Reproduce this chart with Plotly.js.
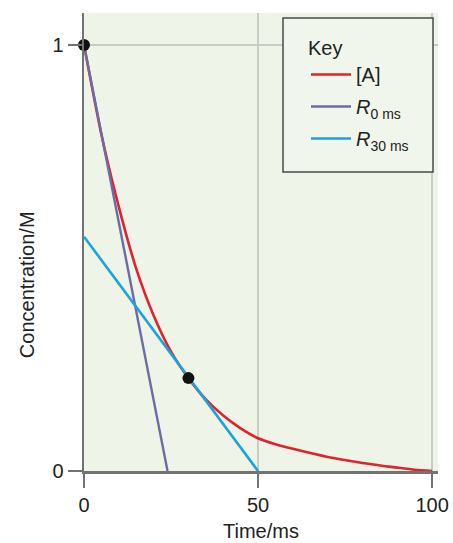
<!DOCTYPE html>
<html>
<head>
<meta charset="utf-8">
<script src="https://cdn.plot.ly/plotly-3.0.1.min.js"></script>
<style>html,body{margin:0;padding:0;background:#fff;}#chart{width:453px;height:543px;}</style>
</head>
<body>
<div id="chart"></div>
<script>
// [A] concentration curve
const timeMs = [0, 5, 10, 15, 20, 25, 30, 35, 40, 45, 50, 55, 60, 70, 80, 90, 95, 100];
const concA  = [1.0, 0.79, 0.62, 0.475, 0.365, 0.28, 0.218, 0.168, 0.13, 0.1, 0.077, 0.063, 0.052, 0.033, 0.019, 0.008, 0.003, 0.0];
// tangent at t = 0 ms
const r0Time = [0, 24];
const r0Conc = [1.0, 0.0];
// tangent at t = 30 ms
const r30Time = [0, 50];
const r30Conc = [0.55, 0.0];
// marked points on the curve
const dotTimes = [0, 30];
const dotConc = dotTimes.map(t => concA[timeMs.indexOf(t)]);
// tick labels
const xTicks = [0, 50, 100];
const yTicks = [0, 1];
const seriesNames = ['[A]', '<i>R</i><sub>0 ms</sub>', '<i>R</i><sub>30 ms</sub>'];

const font = 'Liberation Sans, Arial, Helvetica, sans-serif';
const axisCol = '#737373';
const txt = '#222';

// plot area in pixels (used to place layout items)
const W = 453, H = 543;
const mL = 84, mR = 15, mT = 13, mB = 72.3;
const pw = W - mL - mR, ph = H - mT - mB;
const px2x = p => (p - mL) / pw;
const px2y = p => (H - mB - p) / ph;

const traces = [
  {x: timeMs, y: concA, mode: 'lines', name: seriesNames[0], legendgroup: 'a', line: {color: '#e0232d', width: 2.6, shape: 'spline', smoothing: 0.6}},
  {x: r0Time, y: r0Conc, mode: 'lines', name: seriesNames[1], legendgroup: 'b', line: {color: '#6b6ba6', width: 2.4}},
  {x: r30Time, y: r30Conc, mode: 'lines', name: seriesNames[2], legendgroup: 'c', line: {color: '#1ea2d8', width: 2.6}},
  {x: dotTimes, y: dotConc, mode: 'markers', showlegend: false, cliponaxis: false, marker: {color: '#111', size: 12}}
];

const layout = {
  width: W, height: H,
  margin: {l: mL, r: mR, t: mT, b: mB},
  paper_bgcolor: '#ffffff',
  plot_bgcolor: '#eef5e8',
  font: {family: font, color: txt, size: 20},
  showlegend: true,
  legend: {
    x: px2x(306), y: px2y(29), xanchor: 'left', yanchor: 'top',
    bgcolor: 'rgba(0,0,0,0)', borderwidth: 0,
    title: {text: 'Key', font: {size: 20, family: font, color: txt}},
    font: {size: 20, family: font, color: txt},
    itemwidth: 40, tracegroupgap: 3, traceorder: 'grouped'
  },
  xaxis: {
    range: [0, 101.7], tickvals: xTicks, ticktext: xTicks.map(String),
    showline: true, linecolor: axisCol, linewidth: 2.5,
    ticks: 'outside', ticklen: 14, tickwidth: 2.5, tickcolor: axisCol,
    showgrid: true, gridcolor: '#c9ccc6', gridwidth: 2,
    zeroline: false, tickfont: {size: 20, family: font, color: txt},
    title: {text: 'Time/ms', font: {size: 20, family: font, color: txt}, standoff: 10}
  },
  yaxis: {
    range: [0, 1.075], tickvals: yTicks, ticktext: yTicks.map(String),
    showline: true, linecolor: axisCol, linewidth: 2.5,
    ticks: 'outside', ticklen: 14, tickwidth: 2.5, tickcolor: axisCol,
    showgrid: true, gridcolor: '#c9ccc6', gridwidth: 2,
    zeroline: false, tickfont: {size: 20, family: font, color: txt}
  },
  shapes: [
    {type: 'rect', xref: 'paper', yref: 'paper', layer: 'above',
     x0: px2x(283), x1: px2x(433), y0: px2y(172), y1: px2y(18),
     fillcolor: '#f0f6ec', line: {color: '#4a4a4a', width: 1.5}}
  ],
  annotations: [
    {text: 'Concentration/M', xref: 'paper', yref: 'paper', x: px2x(27), y: px2y(285),
     xanchor: 'center', yanchor: 'middle', textangle: -90, showarrow: false,
     font: {size: 20, family: font, color: txt}}
  ]
};

Plotly.newPlot('chart', traces, layout, {displayModeBar: false, staticPlot: true});
</script>
</body>
</html>
